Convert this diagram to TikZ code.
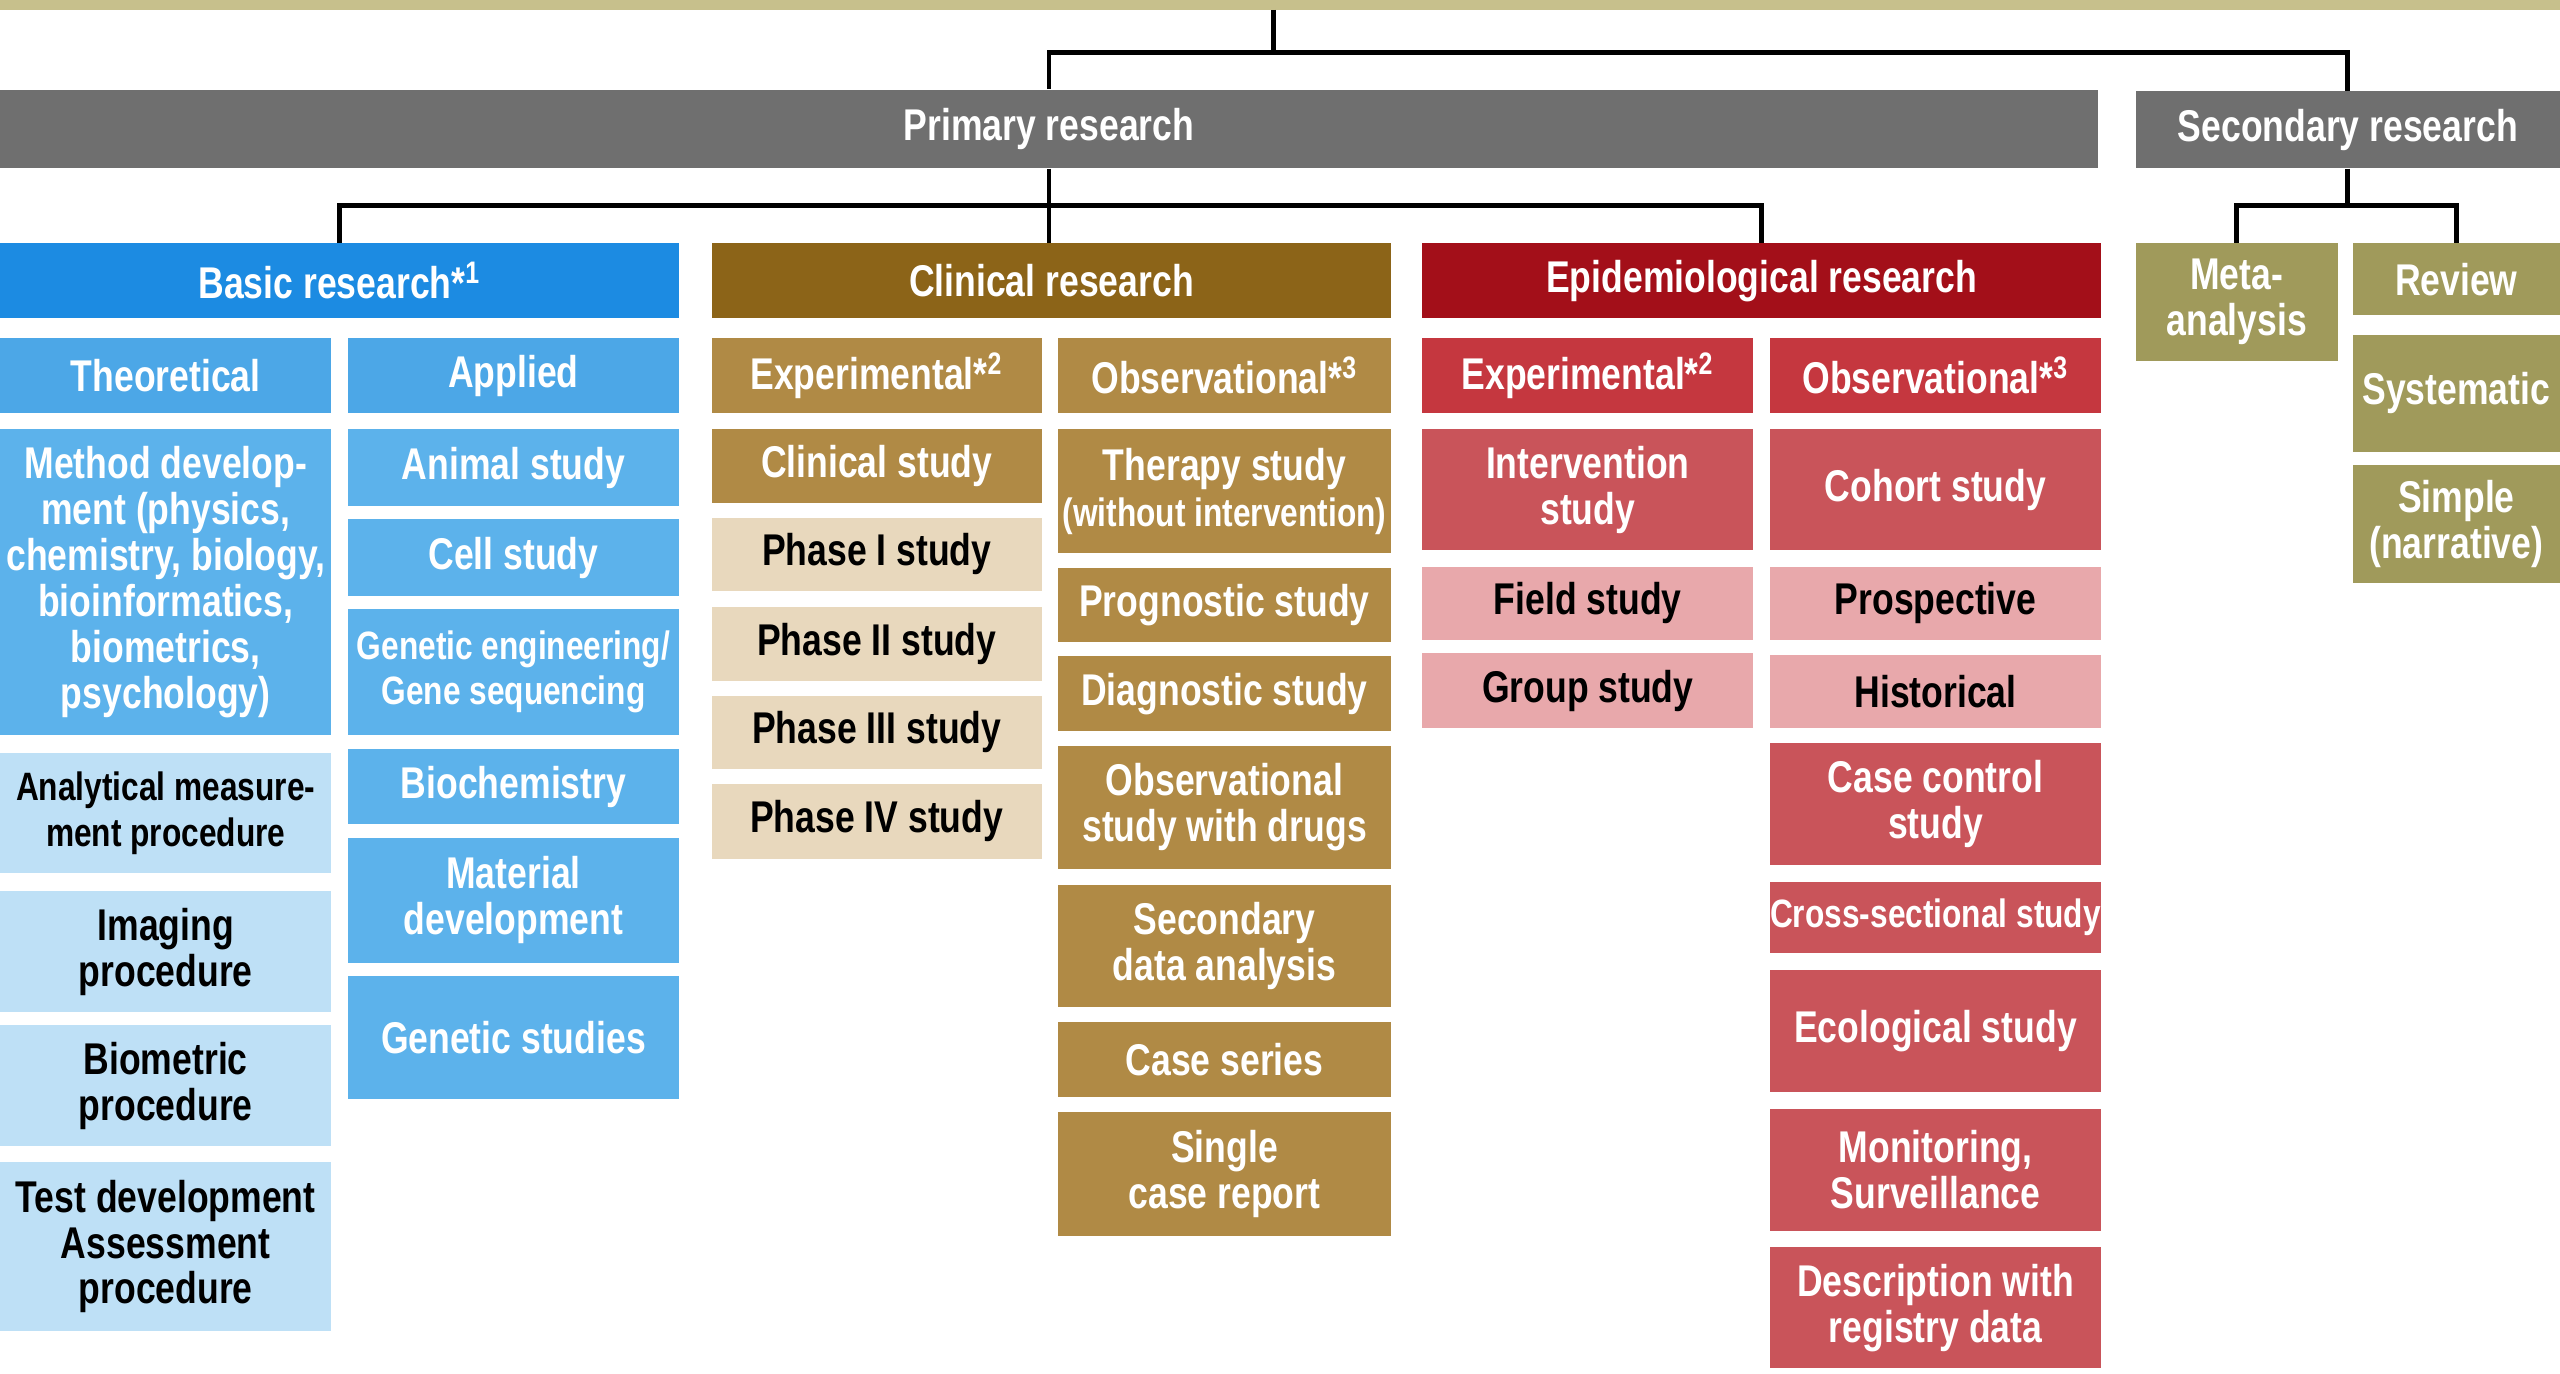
\documentclass[tikz,border=0pt]{standalone}
\usepackage{fontspec}
\newfontfamily\condfont{Liberation Sans}[FakeStretch=0.8]
\definecolor{lineolive}{HTML}{C7C08C}
\definecolor{nodegray}{HTML}{6F6F6F}
\definecolor{nodeblue1}{HTML}{1C8BE2}
\definecolor{nodeblue2}{HTML}{4CA7E7}
\definecolor{nodeblue3}{HTML}{5CB2EB}
\definecolor{nodeblue4}{HTML}{BEE0F6}
\definecolor{nodebrown1}{HTML}{8C6418}
\definecolor{nodebrown2}{HTML}{B08A45}
\definecolor{nodebrown3}{HTML}{E8D8BD}
\definecolor{nodered1}{HTML}{A30F19}
\definecolor{nodered2}{HTML}{C5373F}
\definecolor{nodered3}{HTML}{C9545A}
\definecolor{nodered4}{HTML}{E8A8AB}
\definecolor{nodeolive}{HTML}{A09A5B}
\newcommand{\cellfont}{\condfont\bfseries\fontsize{15.5}{16}\selectfont}
\newcommand{\smallcell}{\fontsize{13.8}{16}\selectfont}

\begin{document}
\begin{tikzpicture}[x=0.02cm, y=-0.02cm,
    cell/.style={inner sep=0pt, align=center, font=\cellfont, text=white},
    dark/.style={text=black},
    box/.style n args={4}{at={({(#1+#3)/2},{(#2+#4)/2})},
       minimum width={(#3-#1)*0.02cm}, minimum height={(#4-#2)*0.02cm}},
    conn/.style={line width=1.7pt, black}]
   \useasboundingbox (0,0) rectangle (1568,841);
   \fill[lineolive] (0,0) rectangle (1568,6);
   \coordinate (top) at (780,6);

   % top level
   \node (primary)[cell, fill=nodegray, box={0}{55}{1285}{103}]{Primary research};
   \node (secondary)[cell, fill=nodegray, box={1308}{56}{1568}{103}]{Secondary research};

   % primary research
   \node (basic)[cell, fill=nodeblue1, box={0}{149}{416}{195}]{Basic research*\textsuperscript{1}};
   \node (clinical)[cell, fill=nodebrown1, box={436}{149}{852}{195}]{Clinical research};
   \node (epi)[cell, fill=nodered1, box={871}{149}{1287}{195}]{Epidemiological research};

   % secondary research
   \node (meta)[cell, fill=nodeolive, box={1308}{149}{1432}{221}]{Meta-\\analysis};
   \node (review)[cell, fill=nodeolive, box={1441}{149}{1568}{193}]{Review};
   \node (systematic)[cell, fill=nodeolive, box={1441}{205}{1568}{277}]{Systematic};
   \node (simple)[cell, fill=nodeolive, box={1441}{285}{1568}{357}]{Simple\\(narrative)};

   % basic research
   \node (theo)[cell, fill=nodeblue2, box={0}{207}{203}{253}]{Theoretical};
   \node (appl)[cell, fill=nodeblue2, box={213}{207}{416}{253}]{Applied};
   \node (methdev)[cell, fill=nodeblue3, box={0}{263}{203}{450}]{Method develop-\\ment (physics,\\chemistry, biology,\\bioinformatics,\\biometrics,\\psychology)};
   \node (analyt)[cell, dark, fill=nodeblue4, box={0}{461}{203}{535}]{\smallcell Analytical measure-\\\smallcell ment procedure};
   \node (imaging)[cell, dark, fill=nodeblue4, box={0}{546}{203}{620}]{Imaging\\procedure};
   \node (biometric)[cell, dark, fill=nodeblue4, box={0}{628}{203}{702}]{Biometric\\procedure};
   \node (testdev)[cell, dark, fill=nodeblue4, box={0}{712}{203}{815}]{Test development\\Assessment\\procedure};
   \node (animal)[cell, fill=nodeblue3, box={213}{263}{416}{310}]{Animal study};
   \node (cellst)[cell, fill=nodeblue3, box={213}{318}{416}{365}]{Cell study};
   \node (geneng)[cell, fill=nodeblue3, box={213}{373}{416}{450}]{\smallcell Genetic engineering/\\\smallcell Gene sequencing};
   \node (biochem)[cell, fill=nodeblue3, box={213}{459}{416}{505}]{Biochemistry};
   \node (material)[cell, fill=nodeblue3, box={213}{513}{416}{590}]{Material\\development};
   \node (genstud)[cell, fill=nodeblue3, box={213}{598}{416}{673}]{Genetic studies};

   % clinical research
   \node (cexp)[cell, fill=nodebrown2, box={436}{207}{638}{253}]{Experimental*\textsuperscript{2}};
   \node (cobs)[cell, fill=nodebrown2, box={648}{207}{852}{253}]{Observational*\textsuperscript{3}};
   \node (clinstudy)[cell, fill=nodebrown2, box={436}{263}{638}{308}]{Clinical study};
   \node (phase1)[cell, dark, fill=nodebrown3, box={436}{317}{638}{362}]{Phase I study};
   \node (phase2)[cell, dark, fill=nodebrown3, box={436}{372}{638}{417}]{Phase II study};
   \node (phase3)[cell, dark, fill=nodebrown3, box={436}{426}{638}{471}]{Phase III study};
   \node (phase4)[cell, dark, fill=nodebrown3, box={436}{480}{638}{526}]{Phase IV study};
   \node (therapy)[cell, fill=nodebrown2, box={648}{263}{852}{339}]{Therapy study\\\smallcell (without intervention)};
   \node (prognostic)[cell, fill=nodebrown2, box={648}{348}{852}{393}]{Prognostic study};
   \node (diagnostic)[cell, fill=nodebrown2, box={648}{402}{852}{448}]{Diagnostic study};
   \node (obsdrugs)[cell, fill=nodebrown2, box={648}{457}{852}{532}]{Observational\\study with drugs};
   \node (secdata)[cell, fill=nodebrown2, box={648}{542}{852}{617}]{Secondary\\data analysis};
   \node (caseser)[cell, fill=nodebrown2, box={648}{626}{852}{672}]{Case series};
   \node (singlecase)[cell, fill=nodebrown2, box={648}{681}{852}{757}]{Single\\case report};

   % epidemiological research
   \node (eexp)[cell, fill=nodered2, box={871}{207}{1074}{253}]{Experimental*\textsuperscript{2}};
   \node (eobs)[cell, fill=nodered2, box={1084}{207}{1287}{253}]{Observational*\textsuperscript{3}};
   \node (interv)[cell, fill=nodered3, box={871}{263}{1074}{337}]{Intervention\\study};
   \node (field)[cell, dark, fill=nodered4, box={871}{347}{1074}{392}]{Field study};
   \node (group)[cell, dark, fill=nodered4, box={871}{400}{1074}{446}]{Group study};
   \node (cohort)[cell, fill=nodered3, box={1084}{263}{1287}{337}]{Cohort study};
   \node (prosp)[cell, dark, fill=nodered4, box={1084}{347}{1287}{392}]{Prospective};
   \node (hist)[cell, dark, fill=nodered4, box={1084}{401}{1287}{446}]{Historical};
   \node (casectrl)[cell, fill=nodered3, box={1084}{455}{1287}{530}]{Case control\\study};
   \node (crosssec)[cell, fill=nodered3, box={1084}{540}{1287}{584}]{\smallcell Cross-sectional study};
   \node (ecol)[cell, fill=nodered3, box={1084}{594}{1287}{669}]{Ecological study};
   \node (monit)[cell, fill=nodered3, box={1084}{679}{1287}{754}]{Monitoring,\\Surveillance};
   \node (regdata)[cell, fill=nodered3, box={1084}{764}{1287}{838}]{Description with\\registry data};

   % connectors
   \coordinate (split1) at (780,32);
   \coordinate (split2) at (642.5,126);
   \coordinate (split3) at (secondary.south |- split2);
   \draw[conn] (top) -- (split1);
   \draw[conn] (primary.north) |- (split1) -| (secondary.north);
   \draw[conn] (primary.south) -- (split2);
   \draw[conn] (basic.north) |- (split2) -| (epi.north);
   \draw[conn] (split2) -- (split2 |- clinical.north);
   \draw[conn] (secondary.south) -- (split3);
   \draw[conn] (meta.north) |- (split3) -| (review.north);
\end{tikzpicture}
\end{document}
